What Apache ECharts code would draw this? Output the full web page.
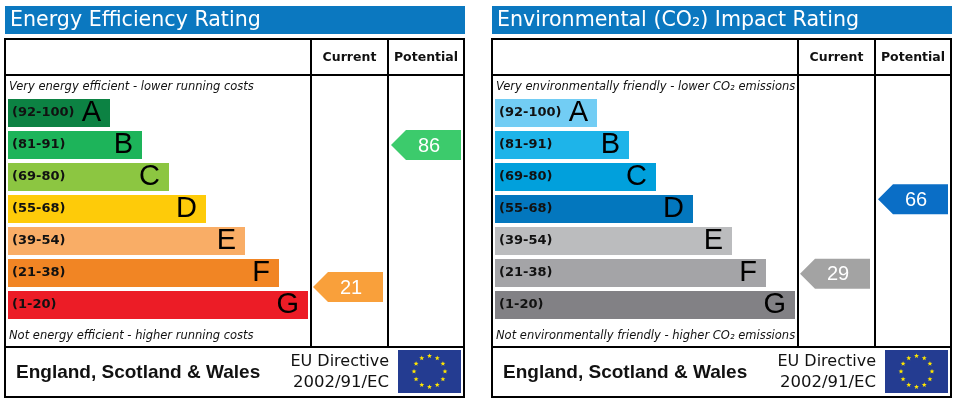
<!DOCTYPE html>
<html>
<head>
<meta charset="utf-8">
<script src="https://cdn.jsdelivr.net/npm/echarts@6/dist/echarts.min.js"></script>
<style>
html, body { margin: 0; padding: 0; background: #fff; }
#chart { width: 957px; height: 404px; }
</style>
</head>
<body>
<div id="chart"></div>
<script>
const bandLetters = ['A', 'B', 'C', 'D', 'E', 'F', 'G'];
const bandRanges = ['(92-100)', '(81-91)', '(69-80)', '(55-68)', '(39-54)', '(21-38)', '(1-20)'];
const bandLow = [92, 81, 69, 55, 39, 21, 1];
const bandHigh = [100, 91, 80, 68, 54, 38, 20];
const barLengths = [102, 134, 161, 198, 237, 271, 300];

const energyColors = ['#0c8243', '#1db45a', '#8cc641', '#fecb09', '#f9ad66', '#f18524', '#ec1c26'];
const co2Colors = ['#72cdf4', '#1eb4e9', '#01a0dc', '#0377be', '#bbbcbe', '#a4a4a7', '#828185'];
const energyArrowColors = ['#1e9a50', '#3ccb6c', '#a5d05c', '#ffd633', '#fbbd80', '#f9a03b', '#f04048'];
const co2ArrowColors = ['#86d6f6', '#3cbfee', '#1aaae0', '#0a6ec6', '#c5c6c8', '#a3a3a3', '#909090'];

// [current, potential]
const energyRatings = [21, 86];
const co2Ratings = [29, 66];

const PANEL_SHIFT = 487;

const bandOf = v => bandLow.findIndex((lo, k) => v >= lo && v <= bandHigh[k]);

function barSeries(idx, colors) {
  return [
    {
      type: 'bar', xAxisIndex: idx, yAxisIndex: idx, barWidth: 28, silent: true,
      data: barLengths.map((len, i) => ({ value: len, itemStyle: { color: colors[i] } })),
      label: {
        show: true, position: 'insideLeft', distance: 4,
        formatter: p => bandRanges[p.dataIndex],
        color: '#111', fontFamily: 'DejaVu Sans', fontWeight: 'bold', fontSize: 13
      }
    },
    {
      type: 'bar', xAxisIndex: idx, yAxisIndex: idx, barWidth: 28, barGap: '-100%', silent: true,
      data: barLengths,
      itemStyle: { color: 'transparent' },
      label: {
        show: true, position: 'insideRight', distance: 9,
        formatter: p => bandLetters[p.dataIndex],
        color: '#000', fontFamily: 'Liberation Sans', fontSize: 29
      }
    }
  ];
}

function arrowSeries(idx, ratings, colors) {
  return {
    type: 'custom', xAxisIndex: idx, yAxisIndex: idx, silent: true,
    encode: { x: 0, y: 1 },
    data: ratings.map((v, col) => [col, bandOf(v), v]),
    renderItem(params, api) {
      const col = api.value(0), b = api.value(1), v = api.value(2);
      const c = api.coord([0, b]);
      const barH = api.size([0, 1])[1] - 4;
      const frac = (v - bandLow[b]) / (bandHigh[b] - bandLow[b]);
      const y = c[1] + barH / 2 - frac * barH;
      const x0 = api.coord([col === 0 ? 305 : 383, b])[0];
      const x1 = x0 + 70;
      return {
        type: 'group',
        children: [
          {
            type: 'polygon',
            shape: { points: [[x0, y], [x0 + 15, y - 15], [x1, y - 15], [x1, y + 15], [x0 + 15, y + 15]] },
            style: { fill: colors[b] }
          },
          {
            type: 'text',
            style: {
              text: String(v), x: x0 + 38, y: y + 1, fill: '#fff',
              font: '20px "Liberation Sans"', align: 'center', verticalAlign: 'middle'
            }
          }
        ]
      };
    }
  };
}

function starPoints(cx, cy, r) {
  const pts = [];
  for (let k = 0; k < 10; k++) {
    const a = -Math.PI / 2 + k * Math.PI / 5;
    const rr = k % 2 ? r * 0.42 : r;
    pts.push([cx + rr * Math.cos(a), cy + rr * Math.sin(a)]);
  }
  return pts;
}

function panelGraphics(ox, title, topNote, bottomNote) {
  const line = (x1, y1, x2, y2) => ({
    type: 'line', shape: { x1: x1, y1: y1, x2: x2, y2: y2 }, style: { stroke: '#000', lineWidth: 2 }
  });
  const txt = (x, y, text, font, align) => ({
    type: 'text', x: x, y: y,
    style: { text: text, font: font, fill: '#111', align: align || 'left', verticalAlign: 'middle' }
  });
  const els = [
    { type: 'rect', shape: { x: ox + 5, y: 6, width: 460, height: 28 }, style: { fill: '#0b78c0' } },
    { type: 'text', x: ox + 10, y: 21, style: { text: title, font: '20.6px "DejaVu Sans"', fill: '#fff', verticalAlign: 'middle' } },
    { type: 'rect', shape: { x: ox + 5, y: 39, width: 459, height: 358 }, style: { fill: 'transparent', stroke: '#000', lineWidth: 2 } },
    line(ox + 5, 75, ox + 464, 75),
    line(ox + 5, 347, ox + 464, 347),
    line(ox + 311, 39, ox + 311, 347),
    line(ox + 388, 39, ox + 388, 347),
    txt(ox + 349.5, 58, 'Current', 'bold 12.5px "DejaVu Sans"', 'center'),
    txt(ox + 426, 58, 'Potential', 'bold 12.5px "DejaVu Sans"', 'center'),
    txt(ox + 9, 87, topNote, 'italic 11.5px "DejaVu Sans"'),
    txt(ox + 9, 336, bottomNote, 'italic 11.5px "DejaVu Sans"'),
    txt(ox + 16, 373, 'England, Scotland & Wales', 'bold 19px "Liberation Sans"'),
    txt(ox + 389, 362, 'EU Directive', '16px "DejaVu Sans"', 'right'),
    txt(ox + 389, 383, '2002/91/EC', '16.5px "DejaVu Sans"', 'right'),
    { type: 'rect', shape: { x: ox + 398, y: 350, width: 63, height: 43 }, style: { fill: '#243c91' } }
  ];
  for (let k = 0; k < 12; k++) {
    const a = k * Math.PI / 6;
    els.push({
      type: 'polygon',
      shape: { points: starPoints(ox + 429.5 + 15.5 * Math.sin(a), 371.5 - 15.5 * Math.cos(a), 2.6) },
      style: { fill: '#ffe600' }
    });
  }
  return els;
}

const chart = echarts.init(document.getElementById('chart'), null, { renderer: 'canvas' });
chart.setOption({
  animation: false,
  grid: [
    { left: 8, top: 97, width: 453, height: 224 },
    { left: 8 + PANEL_SHIFT, top: 97, width: 453, height: 224 }
  ],
  xAxis: [0, 1].map(i => ({ type: 'value', gridIndex: i, min: 0, max: 453, show: false })),
  yAxis: [0, 1].map(i => ({ type: 'category', gridIndex: i, data: bandLetters, inverse: true, show: false })),
  series: [
    ...barSeries(0, energyColors),
    ...barSeries(1, co2Colors),
    arrowSeries(0, energyRatings, energyArrowColors),
    arrowSeries(1, co2Ratings, co2ArrowColors)
  ],
  graphic: [
    ...panelGraphics(0, 'Energy Efficiency Rating',
      'Very energy efficient - lower running costs',
      'Not energy efficient - higher running costs'),
    ...panelGraphics(PANEL_SHIFT, 'Environmental (CO\u2082) Impact Rating',
      'Very environmentally friendly - lower CO\u2082 emissions',
      'Not environmentally friendly - higher CO\u2082 emissions')
  ]
});
</script>
</body>
</html>
